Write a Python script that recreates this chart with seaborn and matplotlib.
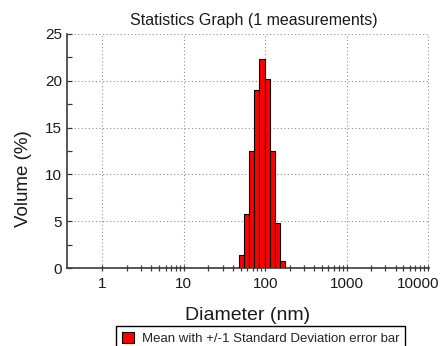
import numpy as np
import pandas as pd
import matplotlib
matplotlib.use("Agg")
import matplotlib.pyplot as plt
import matplotlib.transforms as mtransforms
from matplotlib.patches import Patch
from matplotlib.ticker import FixedLocator, NullFormatter
import seaborn as sns

# ---- data ----
sizes_nm = [50.75, 58.77, 68.06, 78.82, 91.28, 105.7, 122.4, 141.8, 164.2]
volume_pct = [1.4, 5.8, 12.5, 19.0, 22.3, 20.2, 12.5, 4.8, 0.8]
x_major = [1, 10, 100, 1000, 10000]
x_labels = ["1", "10", "100", "1000", "10000"]
y_major = [0, 5, 10, 15, 20, 25]
title_text = "Statistics Graph (1 measurements)"
legend_text = "Mean with +/-1 Standard Deviation error bar"

df = pd.DataFrame({"size": sizes_nm, "volume": volume_pct})

sns.set_theme(style="ticks")
plt.rcParams["font.family"] = ["Liberation Sans", "DejaVu Sans"]

fig = plt.figure(figsize=(4.4, 3.46), dpi=100)
ax = fig.add_axes([66.7 / 440, 1 - 268 / 346, (429 - 66.7) / 440, (268 - 34) / 346])

# bin edges in log10 units, half a bin either side of each size class
logc = np.log10(df["size"].to_numpy())
step = np.mean(np.diff(logc))
edges = [float(v) for v in np.concatenate([logc - step / 2, [logc[-1] + step / 2]])]

sns.histplot(data=df, x="size", weights="volume", bins=edges, log_scale=True,
             stat="count", color="#ff0000", alpha=1.0, edgecolor="black",
             linewidth=0.8, ax=ax, zorder=3)

ax.set_xlim(0.365, 10300)
ax.set_ylim(0, 25)
ax.xaxis.set_major_locator(FixedLocator(x_major))
ax.set_xticklabels(x_labels)
minor = [m * 10 ** d for d in range(0, 4) for m in range(2, 10)]
ax.xaxis.set_minor_locator(FixedLocator(minor))
ax.xaxis.set_minor_formatter(NullFormatter())
ax.yaxis.set_major_locator(FixedLocator(y_major))
ax.yaxis.set_minor_locator(FixedLocator([2.5, 7.5, 12.5, 17.5, 22.5]))

ax.set_axisbelow(True)
ax.grid(True, which="major", color="#909090", linestyle=(0, (1, 2.2)), linewidth=0.8)

for s in ["top", "right"]:
    ax.spines[s].set_visible(False)
for s in ["left", "bottom"]:
    ax.spines[s].set_color("#3a3a3a")
    ax.spines[s].set_linewidth(1.2)

ax.tick_params(axis="x", which="both", direction="inout", length=4.5, width=0.9,
               color="#3a3a3a", labelsize=11, pad=4.0, labelcolor="#1a1a1a")
ax.tick_params(axis="y", which="both", direction="in", length=3.5, width=0.9,
               color="#3a3a3a", labelsize=11, pad=3.4, labelcolor="#1a1a1a")

# keep the last x tick label inside the figure, as in the reference
last = ax.get_xticklabels()[-1]
last.set_transform(last.get_transform() +
                   mtransforms.ScaledTranslation(-10 / 100, 0, fig.dpi_scale_trans))

ax.set_xlabel("Diameter (nm)", fontsize=14, color="#1a1a1a", labelpad=12)
ax.set_ylabel("Volume (%)", fontsize=13.5, color="#1a1a1a")
ax.yaxis.set_label_coords(-0.095, 0.38)
ax.set_title(title_text, fontsize=11.5, color="#1a1a1a", pad=6.5, x=0.517)

handle = Patch(facecolor="#ff0000", edgecolor="black", linewidth=0.8)
leg = fig.legend([handle], [legend_text], loc="upper center",
                 bbox_to_anchor=(260.5 / 440, 1 - 326 / 346), fontsize=9.5,
                 frameon=True, fancybox=False, edgecolor="black",
                 handlelength=0.95, handleheight=0.95, handletextpad=0.55,
                 borderpad=0.45, borderaxespad=0)
leg.get_frame().set_linewidth(1.0)
leg.get_frame().set_alpha(1.0)

fig.savefig("out.png", dpi=100)
